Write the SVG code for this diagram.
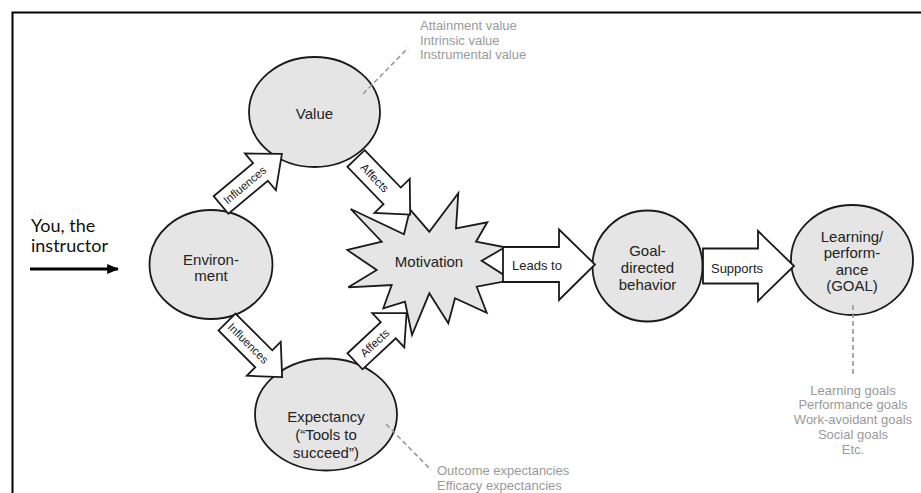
<svg xmlns="http://www.w3.org/2000/svg" width="921" height="493" viewBox="0 0 921 493">
<defs>
<style>
.node{fill:#e5e5e5;stroke:#1a1a1a;stroke-width:1.8}
.barrow{fill:#ffffff;stroke:#1a1a1a;stroke-width:1.8;stroke-linejoin:miter}
.lbl{font-family:"Liberation Sans",Arial,sans-serif;font-size:15px;fill:#222;text-anchor:middle}
.alb{font-family:"Liberation Sans",Arial,sans-serif;font-size:13px;fill:#222;text-anchor:middle}
.dlb{font-family:"Liberation Sans",Arial,sans-serif;font-size:11.5px;fill:#222;text-anchor:middle}
.note{font-family:"Liberation Sans",Arial,sans-serif;font-size:13px;fill:#9a9a9a}
.dash{stroke:#9a9a9a;stroke-width:1.6;stroke-dasharray:5,3;fill:none}
.you{font-family:Lato,"Liberation Sans",sans-serif;font-size:18px;fill:#111}
</style>
<marker id="ah" markerWidth="4" markerHeight="4" refX="3.6" refY="2" orient="auto" markerUnits="strokeWidth">
<path d="M0,0.3 L4,2 L0,3.7 Z" fill="#000"/>
</marker>
</defs>
<rect width="921" height="493" fill="#ffffff"/>
<path d="M12.5,493 V12.5 H921" fill="none" stroke="#000" stroke-width="2"/>

<g id="instructor">
<text class="you" x="31" y="232">You, the</text>
<text class="you" x="31" y="252">instructor</text>
<line x1="30" y1="269" x2="118" y2="269" stroke="#000" stroke-width="3" marker-end="url(#ah)"/>
</g>

<g id="value">
<ellipse class="node" cx="314.5" cy="112" rx="65.5" ry="55"/>
<text class="lbl" x="314.5" y="119">Value</text>
</g>
<g id="environment">
<ellipse class="node" cx="211" cy="264.5" rx="61.5" ry="54.5"/>
<text class="lbl" x="211" y="265">Environ-</text>
<text class="lbl" x="211" y="280.5">ment</text>
</g>
<g id="expectancy">
<ellipse class="node" cx="326" cy="414.5" rx="71" ry="56"/>
<text class="lbl" x="326" y="421.5">Expectancy</text>
<text class="lbl" x="326" y="439.5">(“Tools to</text>
<text class="lbl" x="326" y="457.5">succeed”)</text>
</g>
<g id="goal-directed">
<ellipse class="node" cx="647.5" cy="266" rx="55" ry="55.5"/>
<text class="lbl" x="647.5" y="256">Goal-</text>
<text class="lbl" x="647.5" y="273">directed</text>
<text class="lbl" x="647.5" y="290">behavior</text>
</g>
<g id="learning">
<ellipse class="node" cx="852" cy="260" rx="61" ry="55"/>
<text class="lbl" x="852" y="241.5">Learning/</text>
<text class="lbl" x="852" y="258">perform-</text>
<text class="lbl" x="852" y="274.5">ance</text>
<text class="lbl" x="852" y="291">(GOAL)</text>
</g>
<g id="motivation">
<polygon class="node" points="350.7,209 404,234.3 410,209.3 429.3,231.7 458.3,193.3 456,228.3 487.3,222.3 476,241.7 505,247.3 481.7,260.7 511.7,280 476.7,286.7 486.7,312.7 455,298.3 448.3,323.3 429.3,293.3 412,335 405,301.7 383.3,308.3 391.7,285 348.3,287.3 376.7,270 347.3,250 381.7,241.7"/>
<text class="lbl" x="429" y="267">Motivation</text>
</g>

<g id="connectors">
<g transform="translate(221,205) rotate(-40)">
<polygon class="barrow" points="0,-11.5 51.5,-11.5 51.5,-24 79.5,0 51.5,24 51.5,11.5 0,11.5"/>
<text class="dlb" x="31" y="4" textLength="52" lengthAdjust="spacingAndGlyphs">Influences</text>
</g>
<g transform="translate(356,158.5) rotate(46)">
<polygon class="barrow" points="0,-12 52,-12 52,-24.5 78,0 52,24.5 52,12 0,12"/>
<text class="dlb" x="27" y="4">Affects</text>
</g>
<g transform="translate(227,322) rotate(45)">
<polygon class="barrow" points="0,-12 52,-12 52,-24 78,0 52,24 52,12 0,12"/>
<text class="dlb" x="30" y="4" textLength="52" lengthAdjust="spacingAndGlyphs">Influences</text>
</g>
<g transform="translate(355,361.3) rotate(-43)">
<polygon class="barrow" points="0,-11 45.5,-11 45.5,-23.5 70.5,0 45.5,23.5 45.5,11 0,11"/>
<text class="dlb" x="27" y="4">Affects</text>
</g>
<polygon class="barrow" points="503,247 559,247 559,229.5 595,264.5 559,300 559,282 503,282"/>
<text class="alb" x="537" y="270">Leads to</text>
<polygon class="barrow" points="703,248.5 758,248.5 758,231 794,266 758,301 758,283.5 703,283.5"/>
<text class="alb" x="737" y="272.5">Supports</text>
<line class="dash" x1="363" y1="94" x2="408" y2="48"/>
<line class="dash" x1="386" y1="424" x2="431" y2="470"/>
<line class="dash" x1="853" y1="305" x2="853" y2="377"/>
</g>

<g id="value-notes">
<text class="note" x="420" y="30">Attainment value</text>
<text class="note" x="420" y="44.5">Intrinsic value</text>
<text class="note" x="420" y="59">Instrumental value</text>
</g>
<g id="expectancy-notes">
<text class="note" x="437" y="475">Outcome expectancies</text>
<text class="note" x="437" y="490">Efficacy expectancies</text>
</g>
<g id="goal-notes">
<text class="note" x="853" y="394.5" text-anchor="middle">Learning goals</text>
<text class="note" x="853" y="409" text-anchor="middle">Performance goals</text>
<text class="note" x="853" y="424" text-anchor="middle">Work-avoidant goals</text>
<text class="note" x="853" y="439" text-anchor="middle">Social goals</text>
<text class="note" x="853" y="454" text-anchor="middle">Etc.</text>
</g>
</svg>
